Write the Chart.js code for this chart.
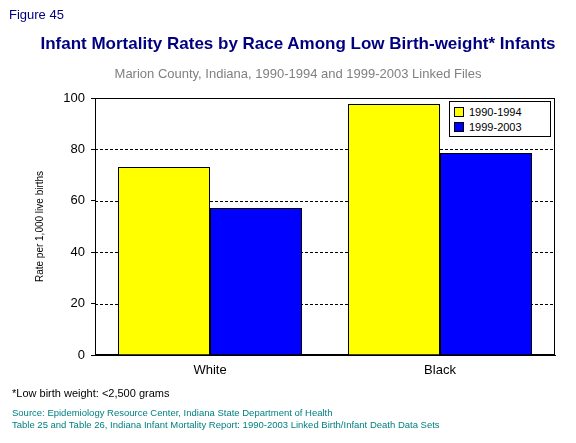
<!DOCTYPE html>
<html><head><meta charset="utf-8">
<script src="https://cdn.jsdelivr.net/npm/chart.js@4"></script>
<style>
body{margin:0;background:#fff;font-family:Arial,"Liberation Sans",sans-serif;}
#wrap{position:relative;width:576px;height:443px;}
.t{position:absolute;white-space:nowrap;}
#legend{position:absolute;left:449px;top:101px;width:102px;border:1px solid #000;background:#fff;font-size:11px;padding:2px 0 2px 4px;box-sizing:border-box;}
#legend div{display:flex;align-items:center;height:15px;}
#legend span.sw{display:inline-block;width:8px;height:8px;border:1px solid #000;margin-right:5px;}
</style></head><body>
<div id="wrap">
<canvas id="c" width="576" height="443" style="position:absolute;left:0;top:0;width:576px;height:443px"></canvas>
<div class="t" style="left:9px;top:7px;font-size:13px;color:#000080">Figure 45</div>
<div class="t" style="left:0;width:576px;text-align:center;top:34px;font-size:17px;font-weight:bold;color:#000080;padding-left:20px;box-sizing:border-box">Infant Mortality Rates by Race Among Low Birth-weight* Infants</div>
<div class="t" style="left:0;width:576px;text-align:center;top:66px;font-size:13px;color:#808080;padding-left:20px;box-sizing:border-box">Marion County, Indiana, 1990-1994 and 1999-2003 Linked Files</div>
<div class="t" style="left:12px;top:387px;font-size:11px;color:#000">*Low birth weight: &lt;2,500 grams</div>
<div class="t" style="left:12px;top:407px;font-size:9.5px;color:#008080">Source: Epidemiology Resource Center, Indiana State Department of Health</div>
<div class="t" style="left:12px;top:419px;font-size:9.5px;color:#008080">Table 25 and Table 26, Indiana Infant Mortality Report: 1990-2003 Linked Birth/Infant Death Data Sets</div>
<div id="legend"></div>
</div>
<script>
const categories=["White","Black"];
const seriesLabels=["1990-1994","1999-2003"];
const values1990=[73.2,97.7];
const values1999=[57.2,78.6];
const colors=["#FFFF00","#0000FF"];
const ctx=document.getElementById('c');
new Chart(ctx,{type:'bar',
data:{labels:categories,datasets:[
{label:seriesLabels[0],data:values1990,backgroundColor:colors[0],borderColor:'#000',borderWidth:1,categoryPercentage:0.8,barPercentage:1},
{label:seriesLabels[1],data:values1999,backgroundColor:colors[1],borderColor:'#000',borderWidth:1,categoryPercentage:0.8,barPercentage:1}]},
options:{responsive:false,animation:false,devicePixelRatio:1,
layout:{padding:{left:30,right:21,top:98,bottom:63}},
plugins:{legend:{display:false},tooltip:{enabled:false}},
scales:{
x:{grid:{display:false,drawTicks:false},border:{color:'#000'},ticks:{color:'#000',font:{size:13,family:'Arial'},padding:8},afterFit(s){s.height=25;}},
y:{min:0,max:100,ticks:{stepSize:20,color:'#000',font:{size:13,family:'Arial'},padding:6},
grid:{color:'#000',drawTicks:true,tickLength:4,tickColor:'#000'},border:{color:'#000',dash:[]},
title:{display:true,text:'Rate per 1,000 live births',color:'#000',font:{size:10,family:'Arial'}},
afterFit(s){s.width=65;}}}},
plugins:[{id:'dash',beforeDatasetsDraw(ch){const a=ch.chartArea,c=ch.ctx,y=ch.scales.y;c.save();c.fillStyle='#fff';c.fillRect(a.left,a.top,a.width,a.height);c.strokeStyle='#000';c.lineWidth=1;c.setLineDash([3,2]);[20,40,60,80].forEach(v=>{const p=Math.round(y.getPixelForValue(v))+0.5;c.beginPath();c.moveTo(a.left,p);c.lineTo(a.right,p);c.stroke();});c.setLineDash([]);c.strokeRect(a.left+0.5,a.top+0.5,a.width-1,a.height-1);c.restore();}}]
});
const lg=document.getElementById('legend');
seriesLabels.forEach((l,i)=>{lg.innerHTML+=`<div><span class="sw" style="background:${colors[i]}"></span>${l}</div>`;});
</script></body></html>
